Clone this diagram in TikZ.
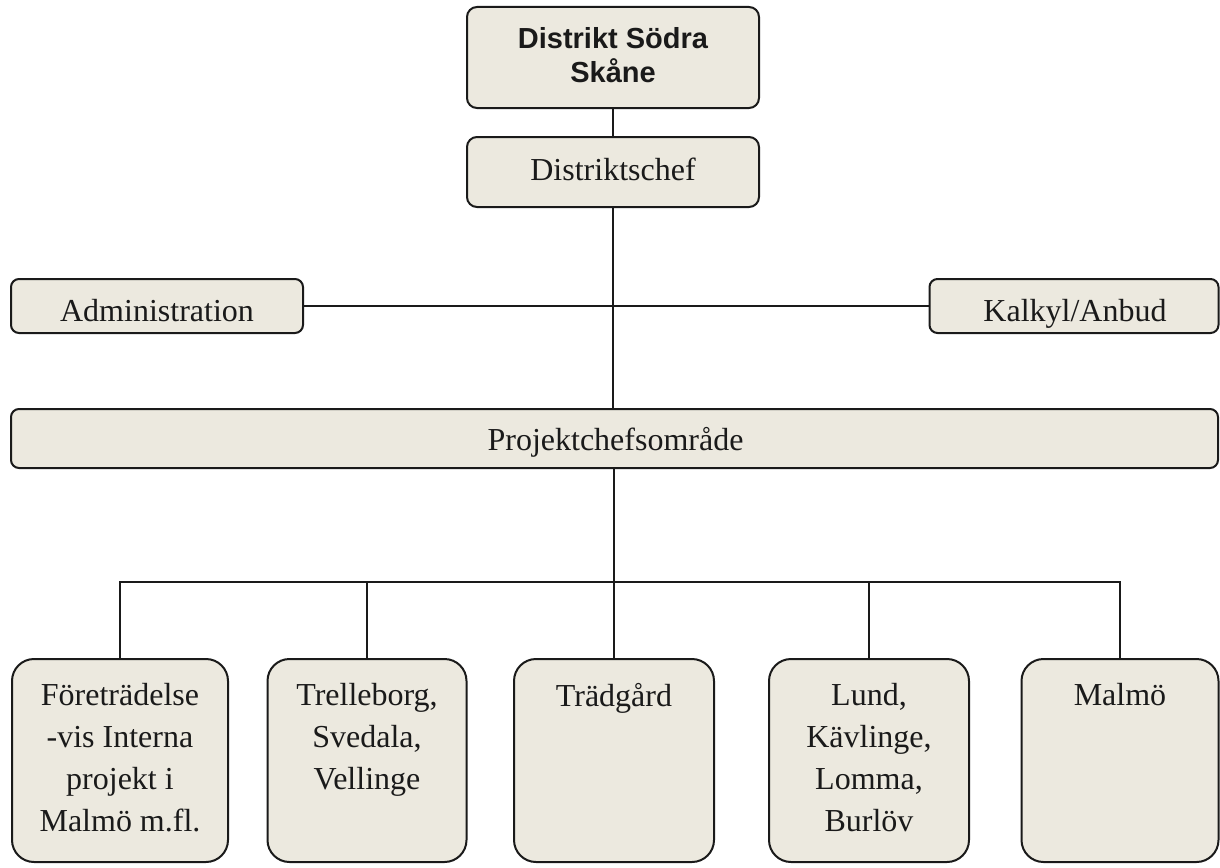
\documentclass[tikz,border=0pt]{standalone}
\usepackage{fontspec}
\setmainfont{Liberation Serif}
\newfontfamily\arialfont{Liberation Sans}
\definecolor{boxfill}{HTML}{ECE9DF}
\definecolor{ink}{HTML}{1A1A1A}
\begin{document}
\begin{tikzpicture}[x=1pt,y=-1pt,
  box/.style={draw=ink,fill=boxfill,line width=2pt,rounded corners=10pt,inner sep=0pt},
  bigbox/.style={box,rounded corners=22pt},
  txt/.style={inner sep=0pt,font=\fontsize{32}{42}\selectfont,text=ink},
  ttl/.style={inner sep=0pt,font=\arialfont\bfseries\fontsize{29}{34}\selectfont,text=ink,align=center},
  conn/.style={draw=ink,line width=2pt}]
\useasboundingbox (0,0) rectangle (1220,867);
% boxes
\node[box,minimum width=292pt,minimum height=101pt] (top) at (613,57.5) {};
\node[box,minimum width=292pt,minimum height=70pt] (chef) at (613,172) {};
\node[box,rounded corners=8pt,minimum width=292pt,minimum height=54pt] (admin) at (157,306) {};
\node[box,rounded corners=8pt,minimum width=289pt,minimum height=54pt] (kalk) at (1074,306) {};
\node[box,rounded corners=8pt,minimum width=1207pt,minimum height=59pt] (proj) at (614.5,438.5) {};
\node[bigbox,minimum width=216pt,minimum height=203pt] (b1) at (120,760.5) {};
\node[bigbox,minimum width=199pt,minimum height=203pt] (b2) at (367,760.5) {};
\node[bigbox,minimum width=200pt,minimum height=203pt] (b3) at (614,760.5) {};
\node[bigbox,minimum width=200pt,minimum height=203pt] (b4) at (869,760.5) {};
\node[bigbox,minimum width=197pt,minimum height=203pt] (b5) at (1120,760.5) {};
% texts
\node[ttl,anchor=north] (ttop) at (613,27) {Distrikt Södra\\Skåne};
\node[txt,anchor=base] (tchef) at (613,180) {Distriktschef};
\node[txt,anchor=base] (tadmin) at (157,321.5) {Administration};
\node[txt,anchor=base] (tkalk) at (1075,321.5) {Kalkyl/Anbud};
\node[txt,anchor=base] (tproj) at (615.5,450) {Projektchefsområde};
\node[txt,anchor=north,align=center] (tb1) at (120,683) {Företrädelse\\-vis Interna\\projekt i\\Malmö m.fl.};
\node[txt,anchor=north,align=center] (tb2) at (367,683) {Trelleborg,\\Svedala,\\Vellinge};
\node[txt,anchor=north,align=center] (tb3) at (614,683) {Trädgård};
\node[txt,anchor=north,align=center] (tb4) at (869,683) {Lund,\\Kävlinge,\\Lomma,\\Burlöv};
\node[txt,anchor=north,align=center] (tb5) at (1120,683) {Malmö};
% connectors
\coordinate (bus) at (614,582);
\draw[conn] (top.south) -- (chef.north);
\draw[conn] (chef.south) -- (chef.south |- proj.north);
\draw[conn] (admin.east) -- (kalk.west);
\draw[conn] (b3.north |- proj.south) -- (b3.north);
\draw[conn] (b1.north) |- (bus) -| (b5.north);
\draw[conn] (b2.north) -- (b2.north |- bus);
\draw[conn] (b4.north) -- (b4.north |- bus);
\end{tikzpicture}
\end{document}
